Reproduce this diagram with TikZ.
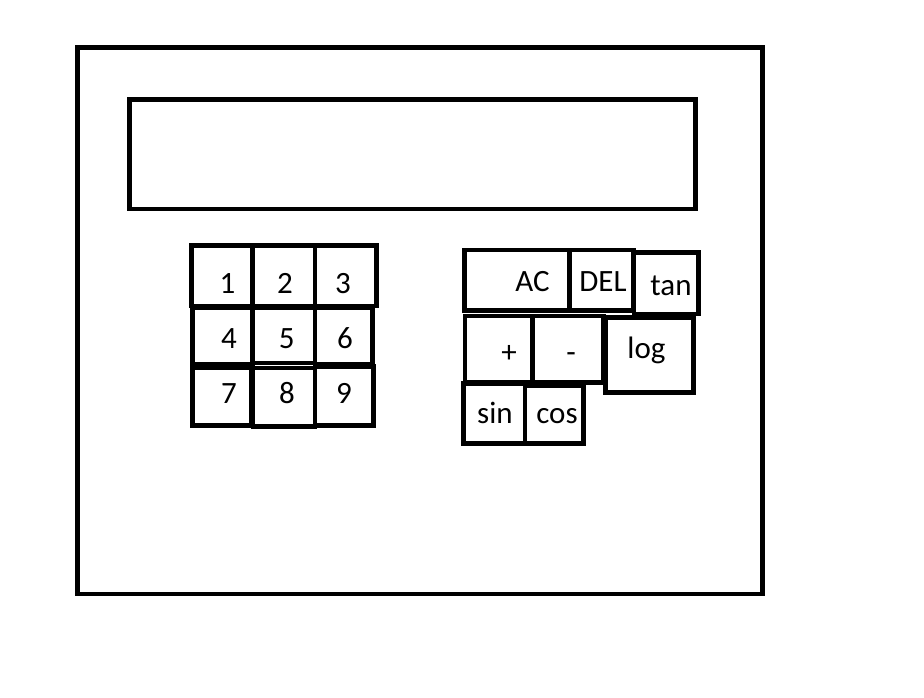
\documentclass[tikz,border=0pt]{standalone}
\usepackage{fontspec}
\setmainfont{Carlito}
\begin{document}
\begin{tikzpicture}[x=1pt,y=-1pt,
  frame/.style={draw=black,line width=4.8pt,line join=miter},
  keylabel/.style={anchor=base,inner sep=0pt,font=\fontsize{31}{36}\selectfont}]
\useasboundingbox (0,0) rectangle (924,698);
\fill[white] (0,0) rectangle (924,698);
% body and screen
\draw[frame] (77.5,47.5) rectangle (762.5,594);
\draw[frame] (129.8,99.5) rectangle (695.8,209);
% number keys
\newcommand{\calckey}[8]{%
  \draw[frame] (#2,#3) coordinate (#1a) rectangle (#4,#5) coordinate (#1b);
  \node[keylabel] (#1) at (#6,#7) {#8};}
\calckey{k1}{191.5}{245.5}{252}{306}{227.5}{293.3}{1}
\calckey{k2}{253}{245.5}{315}{306}{285}{293.3}{2}
\calckey{k3}{315}{245.5}{376.5}{306}{343}{293.3}{3}
\calckey{k4}{192.5}{307.5}{252.5}{364}{229}{348.3}{4}
\calckey{k5}{253}{307.5}{315}{363}{286.7}{348.3}{5}
\calckey{k6}{315}{307.5}{372.5}{364}{345}{348.3}{6}
\calckey{k7}{192.5}{368}{251.5}{425.5}{229}{403.3}{7}
\calckey{k8}{253}{368}{315}{426.5}{287}{403.3}{8}
\calckey{k9}{315}{366.5}{373.5}{425.5}{344}{403.3}{9}
% function keys
\calckey{kac}{464.3}{250}{569.3}{310.7}{532.5}{291.7}{AC}
\calckey{kdel}{569.3}{250}{633.3}{310.7}{603}{291.7}{DEL}
\calckey{ktan}{634}{252.7}{698.3}{314}{671}{295}{tan}
\calckey{kplus}{465}{316}{532.3}{382.7}{509}{362}{+}
\calckey{kminus}{532.3}{316}{603.3}{382.7}{571}{362}{-}
\calckey{klog}{605.7}{317.3}{693.3}{392.7}{646.5}{358.3}{log}
\calckey{ksin}{463.3}{383.3}{525}{443.3}{495}{423.3}{sin}
\calckey{kcos}{525}{386}{583.3}{443.3}{557}{423.3}{cos}
\end{tikzpicture}
\end{document}
